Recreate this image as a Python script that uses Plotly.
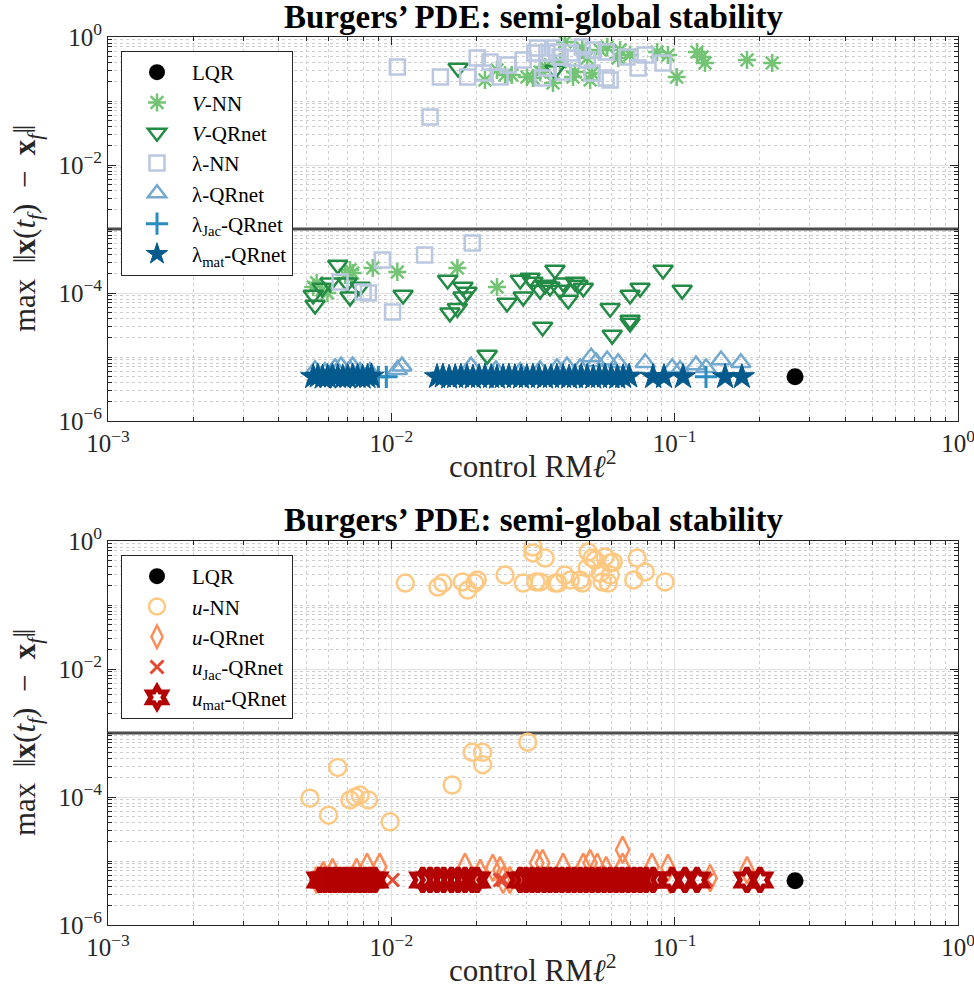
import plotly.graph_objects as go

# ---------------- data: top panel (value-function / costate models) ----------------
lqr_rml2 = [0.266]
lqr_err = [4.9e-6]

vnn_rml2 = [0.0214, 0.0236, 0.0252, 0.0266, 0.0301, 0.0316, 0.0335, 0.0349, 0.0372, 0.041,
            0.0438, 0.0445, 0.0472, 0.0503, 0.0511, 0.0546, 0.0578, 0.0632, 0.0642, 0.0696,
            0.0867, 0.0947, 0.1016, 0.1199, 0.125, 0.128, 0.180, 0.221, 0.0394, 0.0491,
            0.00545, 0.0057, 0.00595, 0.00687, 0.00715, 0.0073, 0.0086, 0.0105, 0.0171, 0.0236, 0.0053]
vnn_err = [0.213, 0.305, 0.255, 0.255, 0.237, 0.229, 0.284, 0.34, 0.191, 0.835,
           0.237, 0.284, 0.673, 0.213, 0.274, 0.626, 0.698, 0.47, 0.626, 0.523,
           0.583, 0.523, 0.237, 0.583, 0.487, 0.392, 0.437, 0.392, 0.407, 0.47,
           1.44e-4, 1.11e-4, 1.0e-4, 1.91e-4, 2.29e-4, 2.06e-4, 2.46e-4, 2.13e-4, 2.46e-4, 1.24e-4, 1.24e-4]

vqr_rml2 = [0.0172, 0.0378,
            0.00538, 0.0053, 0.0057, 0.00608, 0.00647, 0.00698, 0.00715, 0.00776, 0.0110, 0.0158,
            0.0161, 0.0179, 0.0179, 0.0171, 0.0185, 0.0218, 0.0256, 0.0285, 0.0292, 0.0309,
            0.0335, 0.0342, 0.0378, 0.0363, 0.0404, 0.0421, 0.0445, 0.0476, 0.0592, 0.0602,
            0.0696, 0.0696, 0.0696, 0.0755, 0.091, 0.1063, 0.0316, 0.0349, 0.0394, 0.0456]
vqr_err = [0.328, 0.305,
           6.5e-5, 9.3e-5, 1.2e-4, 1.44e-4, 2.74e-4, 1.44e-4, 8.7e-5, 1.24e-4, 9.3e-5, 1.6e-4,
           4.9e-5, 1.24e-4, 8.7e-5, 5.8e-5, 1.04e-4, 1.07e-5, 7.0e-5, 1.6e-4, 8.7e-5, 1.71e-4,
           1.11e-4, 2.95e-5, 2.29e-4, 1.24e-4, 1.44e-4, 7.8e-5, 1.49e-4, 1.2e-4, 5.8e-5, 2.2e-5,
           3.8e-5, 3.4e-5, 9.3e-5, 1.2e-4, 2.29e-4, 1.11e-4, 1.49e-4, 1.33e-4, 1.11e-4, 1.33e-4]

lnn_rml2 = [0.0105, 0.0137, 0.0149, 0.0186, 0.0201, 0.0211, 0.0223, 0.0242, 0.0258, 0.0292,
            0.0321, 0.0328, 0.0354, 0.0354, 0.0342, 0.0384, 0.0404, 0.0428, 0.0435, 0.0472,
            0.0491, 0.0511, 0.0516, 0.0573, 0.0573, 0.0592, 0.0679, 0.0743, 0.0787, 0.091,
            0.0378, 0.0394,
            0.0093, 0.0131, 0.0193, 0.00659, 0.00795, 0.0083, 0.0101]
lnn_err = [0.34, 0.0562, 0.237, 0.237, 0.47, 0.274, 0.407, 0.237, 0.365, 0.437,
           0.563, 0.673, 0.563, 0.328, 0.229, 0.583, 0.284, 0.563, 0.47, 0.698,
           0.437, 0.274, 0.626, 0.583, 0.229, 0.213, 0.487, 0.328, 0.523, 0.392,
           0.673, 0.487,
           3.28e-4, 3.93e-4, 6.05e-4, 1.49e-4, 1.04e-4, 1.0e-4, 5.05e-5]

lqr_net_rml2 = [0.00538, 0.00583, 0.00633, 0.00665, 0.00715, 0.0073, 0.00776, 0.00841, 0.0105, 0.0109,
                0.0191, 0.0234, 0.0285, 0.0335, 0.0384, 0.0417, 0.0464, 0.0507, 0.0528, 0.0578,
                0.0632, 0.0787, 0.098, 0.1045, 0.1189, 0.129, 0.1458, 0.1712]
lqr_net_err = [6.3e-6, 5.9e-6, 6.8e-6, 7.2e-6, 6.3e-6, 7.2e-6, 5.9e-6, 5.9e-6, 6.3e-6, 7.2e-6,
               7.2e-6, 6.3e-6, 5.9e-6, 6.3e-6, 6.8e-6, 7.2e-6, 6.8e-6, 1.0e-5, 8.4e-6, 9.0e-6,
               8.1e-6, 8.1e-6, 6.8e-6, 6.3e-6, 7.5e-6, 6.8e-6, 9.0e-6, 8.1e-6]

ljac_rml2 = [0.0061, 0.009, 0.0096, 0.0228, 0.0464, 0.0632, 0.129]
ljac_err = [4.9e-6, 4.9e-6, 4.9e-6, 4.9e-6, 5.0e-6, 4.9e-6, 4.9e-6]

lmat_rml2 = [0.0053, 0.0055, 0.00572, 0.00596, 0.0062, 0.00647, 0.00674, 0.00701, 0.0073, 0.0076,
             0.00792, 0.00824, 0.00851,
             0.0145, 0.0152, 0.016, 0.0168, 0.0176, 0.0185, 0.0194, 0.0204, 0.0214, 0.0225,
             0.0236, 0.0248, 0.026, 0.0273, 0.0287, 0.0301, 0.0316, 0.0332, 0.0349, 0.0366,
             0.0384, 0.0404, 0.0424, 0.0445, 0.0468, 0.0491, 0.0516, 0.0541, 0.0568, 0.0597,
             0.0627, 0.0658, 0.0691,
             0.0839, 0.0917, 0.107, 0.1507, 0.1727]
lmat_err = [4.9e-6, 5.0e-6, 4.8e-6, 4.9e-6, 5.0e-6, 4.9e-6, 4.8e-6, 4.9e-6, 5.0e-6, 4.9e-6,
            4.8e-6, 4.9e-6, 5.0e-6,
            4.9e-6, 5.0e-6, 4.8e-6, 4.9e-6, 5.0e-6, 4.9e-6, 4.8e-6, 4.9e-6, 5.0e-6, 4.9e-6,
            4.8e-6, 4.9e-6, 5.0e-6, 4.9e-6, 4.8e-6, 4.9e-6, 5.0e-6, 4.9e-6, 4.8e-6, 4.9e-6,
            5.0e-6, 4.9e-6, 4.8e-6, 4.9e-6, 5.0e-6, 4.9e-6, 4.8e-6, 4.9e-6, 5.0e-6, 4.9e-6,
            4.8e-6, 4.9e-6, 5.0e-6,
            4.9e-6, 4.9e-6, 4.9e-6, 4.9e-6, 4.9e-6]

# ---------------- data: bottom panel (direct control models) ----------------
unn_rml2 = [0.0112, 0.0146, 0.0152, 0.0178, 0.0186, 0.0197, 0.0201, 0.0252, 0.0292, 0.0316,
            0.0316, 0.0349, 0.0324, 0.0335, 0.0378, 0.0388, 0.041, 0.0428, 0.0464, 0.0472,
            0.0495, 0.0511, 0.0491, 0.0546, 0.0555, 0.0568, 0.0592, 0.0607, 0.0592, 0.0583,
            0.0737, 0.0787, 0.0717, 0.0925, 0.0524,
            0.00516, 0.006, 0.00647, 0.00715, 0.00745, 0.00776, 0.0083, 0.0099, 0.0164, 0.0193,
            0.021, 0.021, 0.0303]
unn_err = [0.22, 0.191, 0.22, 0.229, 0.171, 0.22, 0.246, 0.294, 0.22, 0.806,
           0.65, 0.542, 0.229, 0.229, 0.22, 0.22, 0.294, 0.246, 0.246, 0.22,
           0.673, 0.542, 0.379, 0.316, 0.229, 0.563, 0.453, 0.47, 0.294, 0.22,
           0.542, 0.328, 0.246, 0.229, 0.505,
           9.6e-5, 5.2e-5, 2.9e-4, 9.0e-5, 1.0e-4, 1.07e-4, 9.0e-5, 4.1e-5, 1.54e-4, 5.0e-4,
           5.0e-4, 3.2e-4, 7.2e-4]

uqr_rml2 = [0.00545, 0.00575, 0.0062, 0.00754, 0.00821, 0.0091,
            0.0182, 0.0206, 0.0228, 0.0242, 0.0248, 0.0262,
            0.0326, 0.0342, 0.0404, 0.0476, 0.0503, 0.0533, 0.0573, 0.0655, 0.0655, 0.0832,
            0.0947, 0.0964, 0.1334, 0.180]
uqr_err = [5.05e-6, 6.0e-6, 6.7e-6, 6.7e-6, 8.1e-6, 8.1e-6,
           8.1e-6, 6.5e-6, 7.8e-6, 7.2e-6, 5.05e-6, 5.05e-6,
           9.3e-6, 9.3e-6, 8.1e-6, 8.1e-6, 9.3e-6, 8.1e-6, 7.2e-6, 1.49e-5, 8.1e-6, 8.1e-6,
           7.8e-6, 5.05e-6, 5.4e-6, 7.2e-6]

ujac_rml2 = [0.00545, 0.0101, 0.0242, 0.0248, 0.0363, 0.0378, 0.0603, 0.129]
ujac_err = [5.05e-6, 5.05e-6, 5.05e-6, 5.05e-6, 5.05e-6, 5.05e-6, 5.05e-6, 5.05e-6]

umat_rml2 = [0.0056, 0.00583, 0.00608, 0.00633, 0.00659, 0.00687, 0.00715, 0.00745, 0.00776, 0.00808,
             0.00841, 0.00876,
             0.0129, 0.0137, 0.0145, 0.0153, 0.0163, 0.0172, 0.0182, 0.0193, 0.0201,
             0.0285, 0.0299, 0.0314, 0.0329, 0.0346, 0.0363, 0.0381, 0.04, 0.0421, 0.0442,
             0.0464, 0.0487, 0.0511, 0.0537, 0.0564, 0.0592, 0.0621, 0.0652, 0.0685, 0.0719,
             0.0755, 0.0793, 0.0839,
             0.098, 0.1088, 0.1199,
             0.180, 0.200]
umat_err = [5.05e-6] * len(umat_rml2)

# ---------------- axis ticks ----------------
x_major = [1e-3, 1e-2, 1e-1, 1.0]
x_major_text = ["10<sup>−3</sup>", "10<sup>−2</sup>", "10<sup>−1</sup>", "10<sup>0</sup>"]
y_major = [1e-6, 1e-4, 1e-2, 1.0]
y_major_text = ["10<sup>−6</sup>", "10<sup>−4</sup>", "10<sup>−2</sup>", "10<sup>0</sup>"]
x_minor = [m * 10.0 ** e for e in (-3, -2, -1) for m in range(2, 10)]
y_minor = [m * 10.0 ** e for e in (-6, -5, -4, -3, -2, -1) for m in range(1, 10)
           if not (m == 1 and e % 2 == 0)]

threshold = 1e-3

FONT = "Liberation Serif"
AX_COLOR = "#262626"

fig = go.Figure()


def add(x, y, name, symbol, color, size, lw, legend, yaxis, xaxis):
    marker = dict(symbol=symbol, size=size, color=color, line=dict(color=color, width=lw))
    fig.add_trace(go.Scatter(x=x, y=y, mode="markers", name=name, marker=marker,
                             legend=legend, xaxis=xaxis, yaxis=yaxis, cliponaxis=True))


# threshold lines
for ax_x, ax_y in (("x", "y"), ("x2", "y2")):
    fig.add_trace(go.Scatter(x=[1e-3, 1.0], y=[threshold, threshold], mode="lines",
                             line=dict(color="#4d4d4d", width=3), showlegend=False,
                             hoverinfo="skip", xaxis=ax_x, yaxis=ax_y))

# top panel
add(lqr_rml2, lqr_err, "LQR", "circle", "black", 17, 0, "legend", "y", "x")
add(vnn_rml2, vnn_err, "<i>V</i>-NN", "asterisk-open", "#74c476", 15, 2.5, "legend", "y", "x")
add(vqr_rml2, vqr_err, "<i>V</i>-QRnet", "triangle-down-open", "#238b45", 17, 2.5, "legend", "y", "x")
add(lnn_rml2, lnn_err, "λ-NN", "square-open", "#bac7e0", 15, 2.5, "legend", "y", "x")
add(lqr_net_rml2, lqr_net_err, "λ-QRnet", "triangle-up-open", "#74a9cf", 17, 2.5, "legend", "y", "x")
add(ljac_rml2, ljac_err, "λ<sub>Jac</sub>-QRnet", "cross-thin-open", "#2b8cbe", 16, 3, "legend", "y", "x")
add(lmat_rml2, lmat_err, "λ<sub>mat</sub>-QRnet", "star", "#045a8d", 19, 1, "legend", "y", "x")

# bottom panel
add(lqr_rml2, lqr_err, "LQR", "circle", "black", 17, 0, "legend2", "y2", "x2")
add(unn_rml2, unn_err, "<i>u</i>-NN", "circle-open", "#fdc982", 17, 2.5, "legend2", "y2", "x2")
add(uqr_rml2, uqr_err, "<i>u</i>-QRnet", "diamond-tall-open", "#fc8d59", 19, 2.5, "legend2", "y2", "x2")
add(ujac_rml2, ujac_err, "<i>u</i><sub>Jac</sub>-QRnet", "x-thin-open", "#e34a33", 13, 3, "legend2", "y2", "x2")
add(umat_rml2, umat_err, "<i>u</i><sub>mat</sub>-QRnet", "hexagram-open", "#b30000", 18, 5, "legend2", "y2", "x2")

TICK_FONT = dict(family=FONT, size=25, color="#262626")
LABEL_FONT = dict(family=FONT, size=31, color="#262626")


def xaxis_cfg(anchor):
    return dict(type="log", range=[-3, 0], domain=[108 / 974, 958 / 974], anchor=anchor,
                automargin=False, ticklabeloverflow="allow",
                tickmode="array", tickvals=x_major, ticktext=x_major_text,
                ticks="inside", ticklen=8, tickwidth=1, tickcolor=AX_COLOR,
                showline=True, linecolor=AX_COLOR, linewidth=1, mirror="ticks",
                showgrid=True, gridcolor="#e2e2e2", gridwidth=1,
                zeroline=False,
                minor=dict(tickmode="array", tickvals=x_minor, ticks="inside", ticklen=4,
                           tickcolor=AX_COLOR, showgrid=True, gridcolor="#cfcfcf",
                           griddash="dot", gridwidth=1),
                tickfont=TICK_FONT)


def yaxis_cfg(anchor, domain):
    return dict(type="log", range=[-6, 0], domain=domain, anchor=anchor,
                automargin=False, ticklabeloverflow="allow",
                tickmode="array", tickvals=y_major, ticktext=y_major_text,
                ticks="inside", ticklen=8, tickwidth=1, tickcolor=AX_COLOR,
                showline=True, linecolor=AX_COLOR, linewidth=1, mirror="ticks",
                showgrid=True, gridcolor="#e2e2e2", gridwidth=1,
                zeroline=False,
                minor=dict(tickmode="array", tickvals=y_minor, ticks="inside", ticklen=4,
                           tickcolor=AX_COLOR, showgrid=True, gridcolor="#cfcfcf",
                           griddash="dot", gridwidth=1),
                tickfont=TICK_FONT)


y_title = "max  ‖<b>x</b>(<i>t<sub>f</sub></i>)  −  <b>x</b><sub><i>f</i></sub>‖"
x_title = "control RM<i>ℓ</i><sup>2</sup>"
TITLE = "<b>Burgers’ PDE: semi-global stability</b>"

legend_common = dict(bgcolor="white", bordercolor=AX_COLOR, borderwidth=1,
                     font=dict(family=FONT, size=21, color="black"),
                     xanchor="left", yanchor="top", tracegroupgap=0, itemclick=False,
                     itemwidth=60)


def text_note(text, x_px, y_px, font, angle=0):
    return dict(text=text, xref="paper", yref="paper", x=x_px / 974, y=1 - y_px / 996,
                xanchor="center", yanchor="middle", showarrow=False, font=font,
                textangle=angle)


fig.update_layout(
    width=974, height=996,
    margin=dict(l=0, r=0, t=0, b=0),
    paper_bgcolor="white", plot_bgcolor="white",
    showlegend=True,
    xaxis=xaxis_cfg("y"),
    yaxis=yaxis_cfg("x", [1 - 421 / 996, 1 - 37 / 996]),
    xaxis2=xaxis_cfg("y2"),
    yaxis2=yaxis_cfg("x2", [1 - 925 / 996, 1 - 541 / 996]),
    legend=dict(x=121 / 974, y=1 - 51 / 996, **legend_common),
    legend2=dict(x=121 / 974, y=1 - 555 / 996, **legend_common),
    annotations=[
        text_note(TITLE, 533, 17, dict(family=FONT, size=33, color="black")),
        text_note(TITLE, 533, 520, dict(family=FONT, size=33, color="black")),
        text_note(x_title, 533, 464, LABEL_FONT),
        text_note(x_title, 533, 968, LABEL_FONT),
        text_note(y_title, 27, 229, LABEL_FONT, angle=-90),
        text_note(y_title, 27, 733, LABEL_FONT, angle=-90),
    ],
)

fig.write_html("out.html")
